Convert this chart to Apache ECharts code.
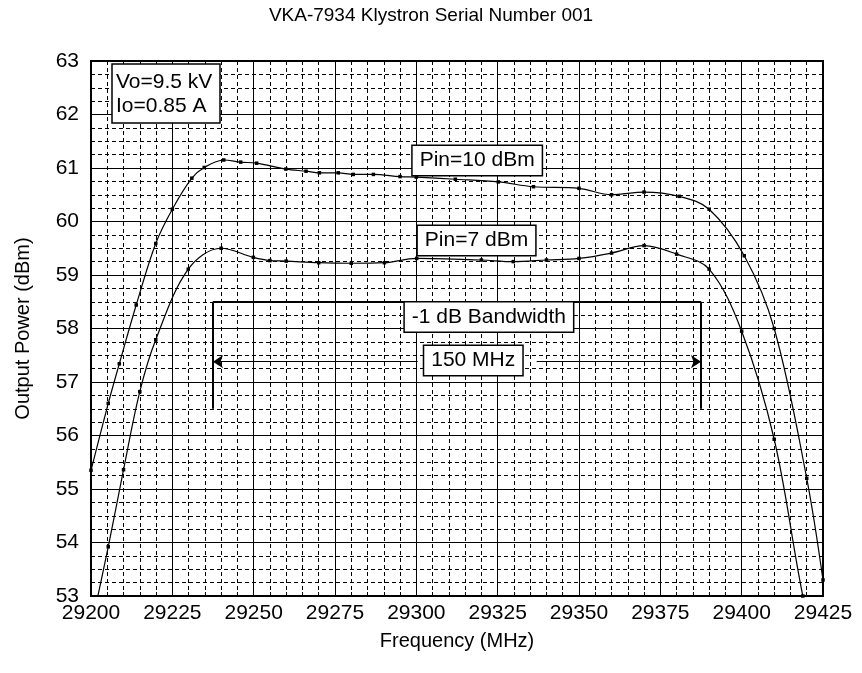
<!DOCTYPE html>
<html>
<head>
<meta charset="utf-8">
<script src="https://cdn.jsdelivr.net/npm/echarts@6/dist/echarts.min.js"></script>
<style>
html,body{margin:0;padding:0;background:#fff;}
#c{width:862px;height:673px;}
</style>
</head>
<body>
<div id="c"></div>
<script>
// ---- data ----
const chartTitle = 'VKA-7934 Klystron Serial Number 001';
const xName = 'Frequency (MHz)';
const yName = 'Output Power (dBm)';
const xTicks = [29200, 29225, 29250, 29275, 29300, 29325, 29350, 29375, 29400, 29425];
const yTicks = [53, 54, 55, 56, 57, 58, 59, 60, 61, 62, 63];

const freq10 = [29200, 29205.3, 29208.7, 29213.9, 29219.9, 29225, 29231, 29234.8, 29240.8, 29246, 29250.9, 29259.9, 29266.1, 29270.2, 29276, 29280.6, 29286.8, 29295, 29300, 29312, 29325.2, 29336, 29350, 29360, 29370, 29380.8, 29390, 29400.8, 29410, 29420, 29425];
const power10 = [55.35, 56.6, 57.34, 58.44, 59.59, 60.23, 60.81, 61.01, 61.15, 61.11, 61.09, 60.98, 60.94, 60.91, 60.91, 60.88, 60.88, 60.84, 60.83, 60.79, 60.74, 60.65, 60.62, 60.50, 60.55, 60.47, 60.23, 59.36, 58.00, 55.2, 53.3];

const freq7 = [29200, 29205.3, 29210, 29215, 29219.9, 29229.9, 29240, 29249.9, 29255, 29260, 29270, 29280, 29290.2, 29300.1, 29320, 29329.8, 29340, 29350, 29360, 29370, 29380, 29390, 29400, 29410, 29418.8, 29422];
const power7 = [52.4, 53.92, 55.36, 56.82, 57.79, 59.11, 59.50, 59.33, 59.27, 59.26, 59.23, 59.22, 59.23, 59.31, 59.28, 59.25, 59.28, 59.31, 59.41, 59.55, 59.39, 59.11, 57.95, 55.93, 53.0, 52.3];

const conditionText = ['Vo=9.5 kV', 'Io=0.85 A'];
const noteTexts = ['Pin=10 dBm', 'Pin=7 dBm', '-1 dB Bandwidth', '150 MHz'];
const noteFreqs = [29318.7, 29318.5, 29322.3, 29317.5];
const notePowers = [61.14, 59.645, 58.215, 57.40];

const bandStart = 29237.5, bandEnd = 29387.5;
const bracketTop = 58.5, bracketBottom = 56.5;
const arrowLevel = 57.38;
const arrowGapStart = 29300.4, arrowGapEnd = 29337;

// ---- chart ----
const FONT = 'Liberation Sans, Arial, sans-serif';
const pairs = (xs, ys) => xs.map((x, i) => [x, ys[i]]);

const chart = echarts.init(document.getElementById('c'), null, {renderer: 'canvas'});
const lineSeries = (name, xs, ys) => ({
  name, type: 'line', data: pairs(xs, ys), smooth: 0.35, clip: true,
  symbol: 'rect', symbolSize: 3.5, showSymbol: true,
  itemStyle: {color: '#000'}, lineStyle: {color: '#000', width: 1.2}, z: 3
});

const noteLabel = {
  show: true, position: 'inside', formatter: p => p.name,
  backgroundColor: '#fff', borderColor: '#000', borderWidth: 1.5,
  padding: [5, 7, 3, 7], fontSize: 21, color: '#000', fontFamily: FONT
};

chart.setOption({
  animation: false,
  backgroundColor: '#fff',
  title: [
    {text: chartTitle, left: 'center', top: 1, textStyle: {fontSize: 19, fontWeight: 'normal', color: '#000', fontFamily: FONT}},
    {text: conditionText.join('\n'), left: 112, top: 64, padding: [6, 8, 5, 4],
      backgroundColor: '#fff', borderColor: '#000', borderWidth: 1.5, z: 10,
      textStyle: {fontSize: 21, lineHeight: 24, fontWeight: 'normal', color: '#000', fontFamily: FONT}}
  ],
  grid: {left: 91, right: 39, top: 61, bottom: 77, show: true, borderColor: '#000', borderWidth: 2, backgroundColor: 'transparent'},
  xAxis: {
    type: 'value', min: xTicks[0], max: xTicks[xTicks.length - 1], interval: 25,
    name: xName, nameLocation: 'middle', nameGap: 35,
    nameTextStyle: {fontSize: 20, color: '#000', fontFamily: FONT},
    axisLine: {show: true, onZero: false, lineStyle: {color: '#000', width: 2}},
    axisTick: {show: true, inside: true, length: 6, lineStyle: {color: '#000'}},
    minorTick: {show: true, splitNumber: 5, length: 4, lineStyle: {color: '#000'}},
    axisLabel: {fontSize: 21, color: '#000', margin: 7, fontFamily: FONT, formatter: v => String(v)},
    splitLine: {show: true, lineStyle: {color: '#000', width: 1}},
    minorSplitLine: {show: true, lineStyle: {color: '#000', width: 1, type: [4, 3]}}
  },
  yAxis: {
    type: 'value', min: yTicks[0], max: yTicks[yTicks.length - 1], interval: 1,
    name: yName, nameLocation: 'middle', nameGap: 58, nameRotate: 90,
    nameTextStyle: {fontSize: 20, color: '#000', fontFamily: FONT},
    axisLine: {show: true, onZero: false, lineStyle: {color: '#000', width: 2}},
    axisTick: {show: true, inside: true, length: 6, lineStyle: {color: '#000'}},
    minorTick: {show: true, splitNumber: 4, length: 4, lineStyle: {color: '#000'}},
    axisLabel: {fontSize: 21, color: '#000', margin: 12, fontFamily: FONT},
    splitLine: {show: true, lineStyle: {color: '#000', width: 1}},
    minorSplitLine: {show: true, lineStyle: {color: '#000', width: 1, type: [4, 3]}}
  },
  series: [
    lineSeries('Pin=10 dBm', freq10, power10),
    lineSeries('Pin=7 dBm', freq7, power7),
    {
      name: 'annotations', type: 'line', data: [], z: 8, silent: true,
      markLine: {
        silent: true, animation: false, z: 8,
        label: {show: false},
        data: [
          [{coord: [bandStart, bracketBottom], symbol: 'none'}, {coord: [bandStart, bracketTop], symbol: 'none'}],
          [{coord: [bandStart, bracketTop], symbol: 'none'}, {coord: [bandEnd, bracketTop], symbol: 'none'}],
          [{coord: [bandEnd, bracketTop], symbol: 'none'}, {coord: [bandEnd, bracketBottom], symbol: 'none'}],
          [{coord: [arrowGapStart, arrowLevel], symbol: 'none', lineStyle: {width: 1}}, {coord: [bandStart, arrowLevel], symbol: 'arrow', symbolSize: 10}],
          [{coord: [arrowGapEnd, arrowLevel], symbol: 'none', lineStyle: {width: 1}}, {coord: [bandEnd, arrowLevel], symbol: 'arrow', symbolSize: 10}]
        ],
        lineStyle: {color: '#000', width: 2, type: 'solid'}
      },
      markPoint: {
        silent: true, animation: false, z: 9,
        symbol: 'rect', symbolSize: 1, itemStyle: {color: 'transparent'},
        label: noteLabel,
        data: noteTexts.map((t, i) => ({name: t, coord: [noteFreqs[i], notePowers[i]]}))
      }
    }
  ]
});
</script>
</body>
</html>
